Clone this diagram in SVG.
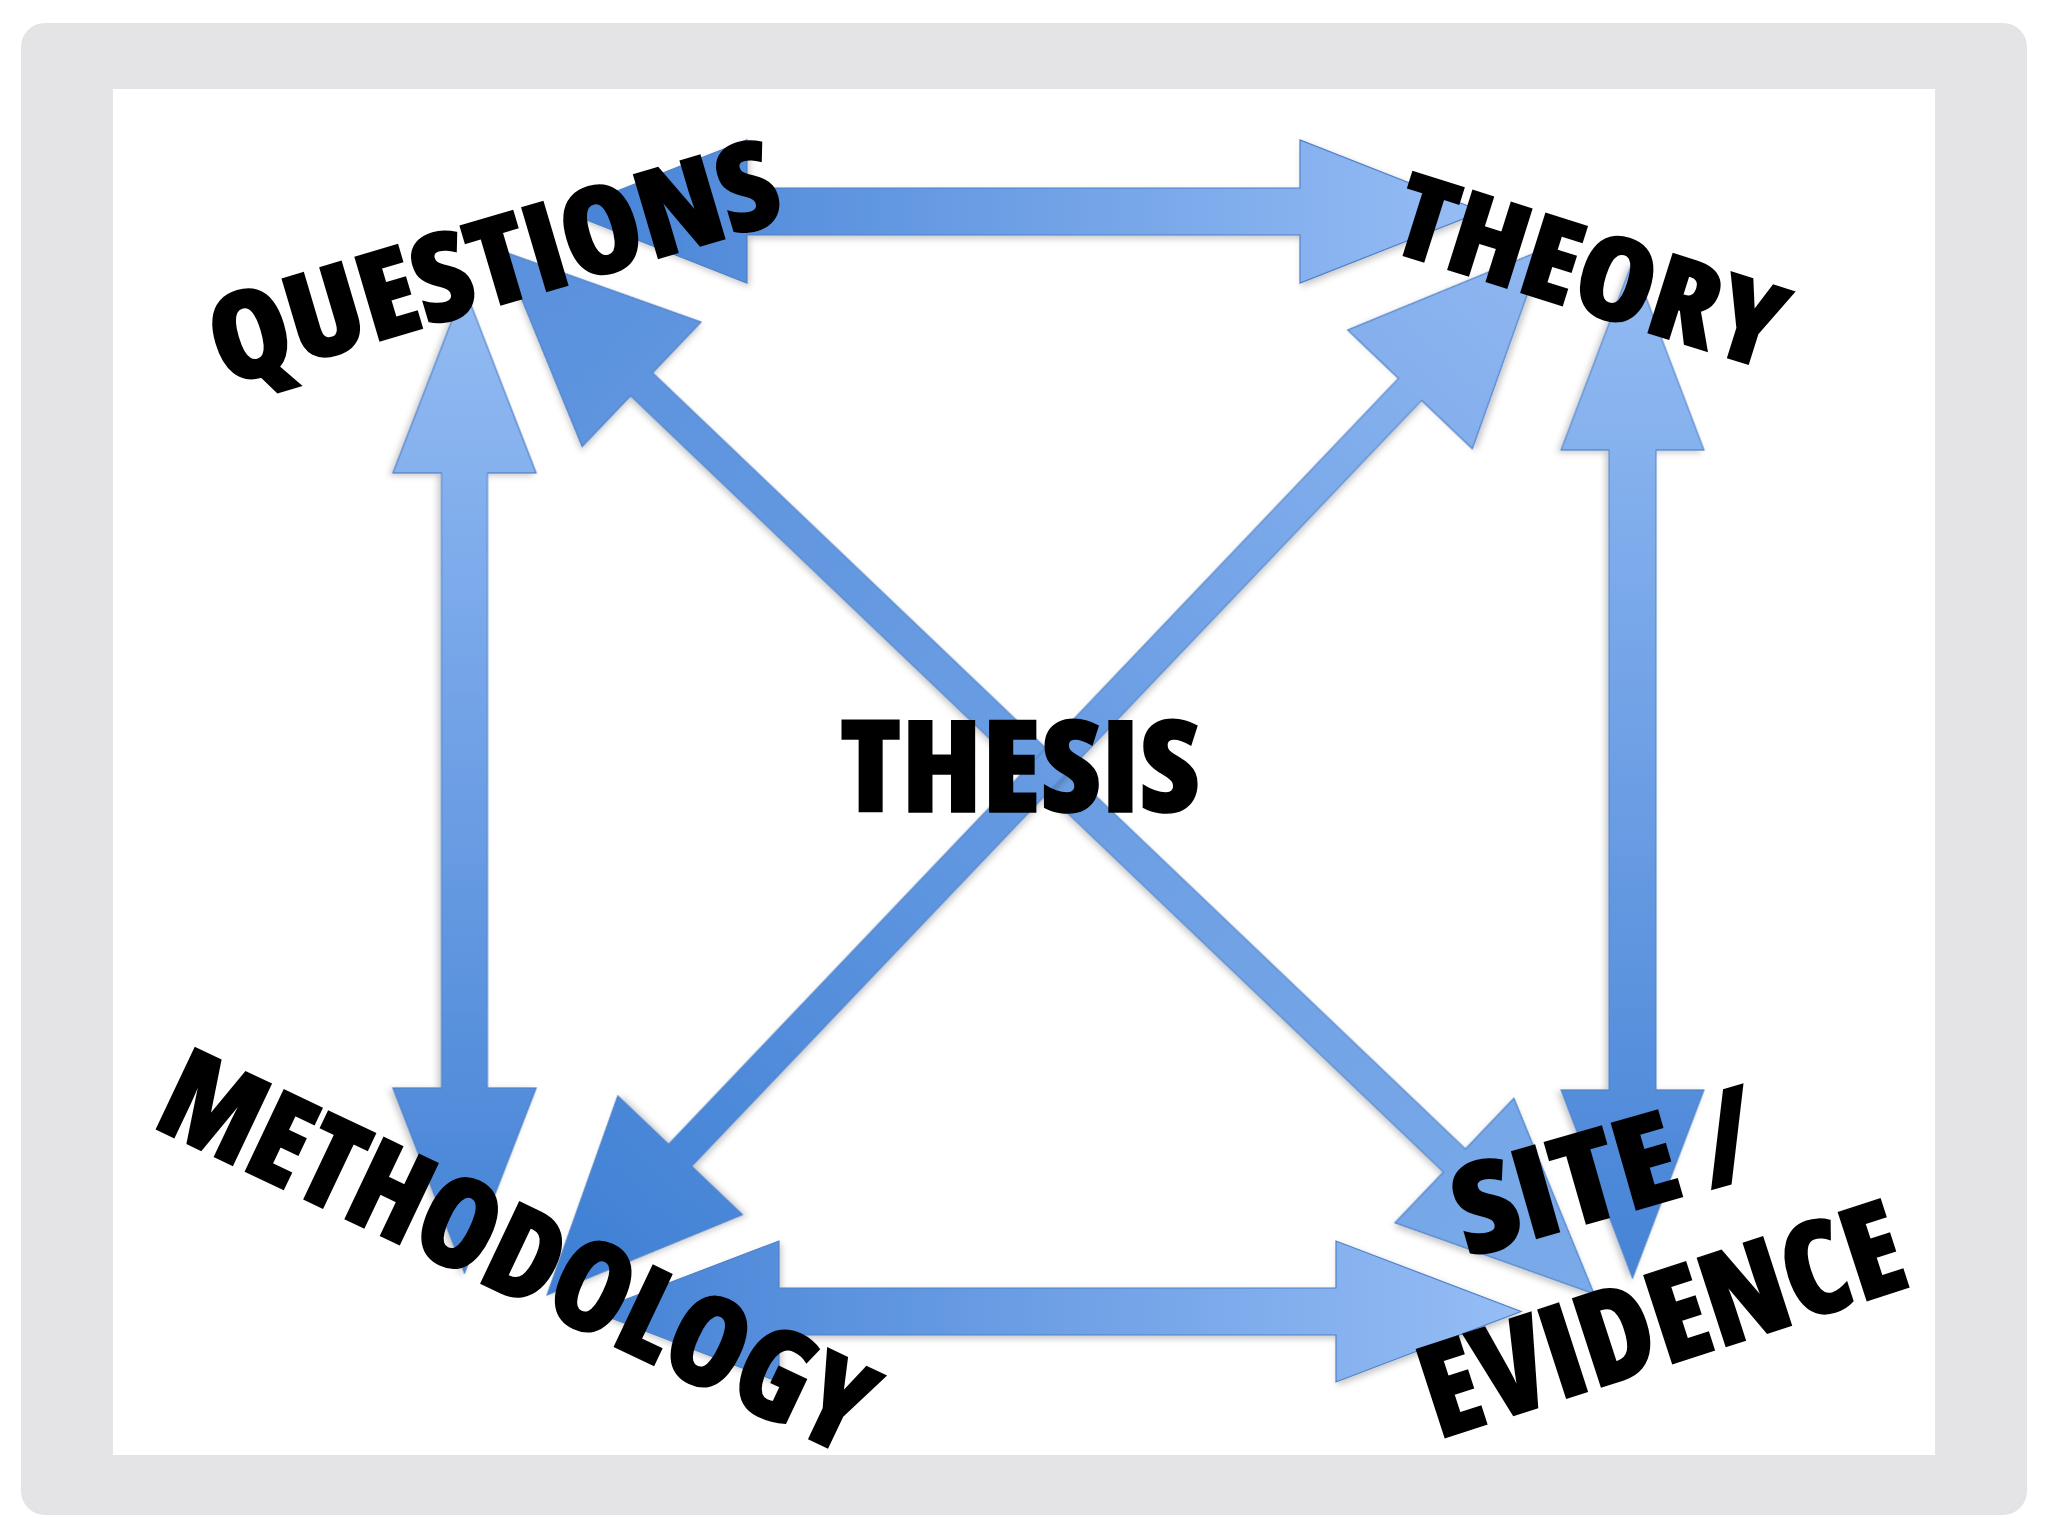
<svg xmlns="http://www.w3.org/2000/svg" width="2048" height="1536" viewBox="0 0 2048 1536">
<defs>
<linearGradient id="gDarkLight" x1="0" y1="0" x2="1" y2="0">
<stop offset="0" stop-color="#4683d6"/><stop offset="1" stop-color="#96bdf5"/>
</linearGradient>
<linearGradient id="gLightDark" x1="0" y1="0" x2="1" y2="0">
<stop offset="0" stop-color="#93bbf3"/><stop offset="1" stop-color="#4683d6"/>
</linearGradient>
<linearGradient id="gNESW" x1="0" y1="0" x2="1" y2="0">
<stop offset="0" stop-color="#3e7fd4"/><stop offset="1" stop-color="#8fb7f1"/>
</linearGradient>
<linearGradient id="gNWSE" x1="0" y1="0" x2="1" y2="0">
<stop offset="0" stop-color="#5a91dd"/><stop offset="1" stop-color="#7aaae9"/>
</linearGradient>
<filter id="shadow" x="-10%" y="-10%" width="120%" height="120%">
<feDropShadow dx="2" dy="3" stdDeviation="3" flood-color="#000" flood-opacity="0.22"/>
</filter>
</defs>
<style>
.arrow{stroke:#4f80c6;stroke-width:1.2;stroke-linejoin:miter;filter:url(#shadow)}
.lbl{font-family:"Open Sans","Liberation Sans",sans-serif;font-weight:800;font-stretch:condensed;fill:#000;stroke:#000;stroke-width:1.5}
</style>
<rect x="0" y="0" width="2048" height="1536" fill="#ffffff"/>
<rect x="21" y="23" width="2006" height="1492" rx="24" fill="#e4e4e6"/>
<rect x="113" y="89" width="1822" height="1366" fill="#ffffff"/>
<g id="connectors">
<polygon class="arrow" fill="url(#gNWSE)" transform="translate(502,251) rotate(43.68)" points="0,0 193,-86 193,-16 1317,-16 1317,-86 1510,0 1317,86 1317,16 193,16 193,86"/>
<polygon class="arrow" fill="url(#gNESW)" transform="translate(547,1295) rotate(-46.38)" points="0,0 193,-86 193,-16 1251,-16 1251,-86 1444,0 1251,86 1251,16 193,16 193,86"/>
<polygon class="arrow" fill="url(#gDarkLight)" transform="translate(565,211.5)" points="0,0 182,-71.5 182,-23.5 735,-23.5 735,-71.5 917,0 735,71.5 735,23.5 182,23.5 182,71.5"/>
<polygon class="arrow" fill="url(#gDarkLight)" transform="translate(594,1311.5)" points="0,0 185,-70.5 185,-23.5 742,-23.5 742,-70.5 927,0 742,70.5 742,23.5 185,23.5 185,70.5"/>
<polygon class="arrow" fill="url(#gLightDark)" transform="translate(464.5,288) rotate(90)" points="0,0 185,-71.5 185,-23 800,-23 800,-71.5 985,0 800,71.5 800,23 185,23 185,71.5"/>
<polygon class="arrow" fill="url(#gLightDark)" transform="translate(1632.5,262) rotate(90)" points="0,0 188,-71.5 188,-23.5 828,-23.5 828,-71.5 1016,0 828,71.5 828,23.5 188,23.5 188,71.5"/>
</g>
<g id="thesis"><text class="lbl" x="840" y="812" font-size="128" textLength="360" lengthAdjust="spacingAndGlyphs">THESIS</text></g>
<g id="questions"><text class="lbl" transform="translate(224,387) rotate(-16.5)" font-size="122" textLength="588" lengthAdjust="spacingAndGlyphs">QUESTIONS</text></g>
<g id="theory"><text class="lbl" transform="translate(1386,250) rotate(17.5)" font-size="116" textLength="402" lengthAdjust="spacingAndGlyphs">THEORY</text></g>
<g id="methodology"><text class="lbl" transform="translate(150,1126) rotate(25.4)" font-size="126" textLength="772" lengthAdjust="spacingAndGlyphs">METHODOLOGY</text></g>
<g id="site-evidence">
<text class="lbl" transform="translate(1468,1258) rotate(-16)" font-size="126" textLength="312" lengthAdjust="spacingAndGlyphs">SITE /</text>
<text class="lbl" transform="translate(1438,1440) rotate(-18)" font-size="130" textLength="500" lengthAdjust="spacingAndGlyphs">EVIDENCE</text>
</g>
</svg>
